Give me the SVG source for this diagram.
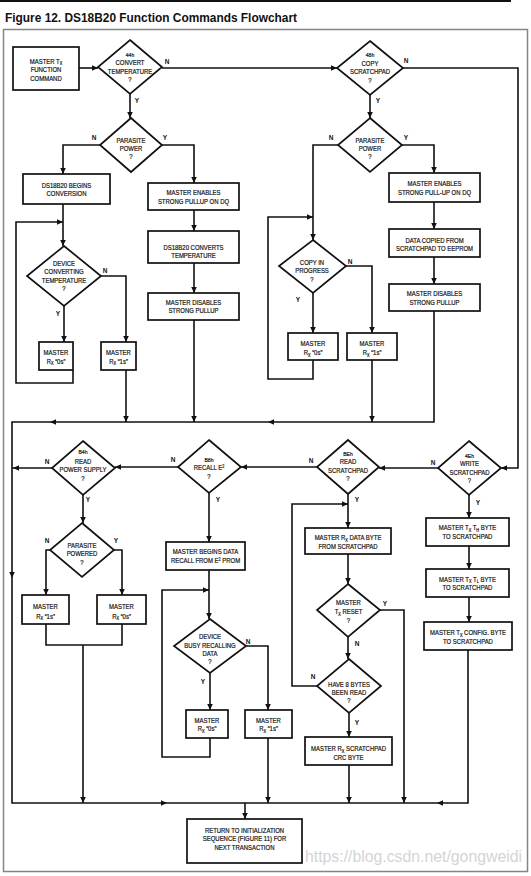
<svg xmlns="http://www.w3.org/2000/svg" xmlns:xlink="http://www.w3.org/1999/xlink" width="531" height="876" viewBox="0 0 531 876">
<style>
.t{font-family:"Liberation Sans",Arial,sans-serif;font-size:7px;fill:#111;stroke:#111;stroke-width:0.2;text-anchor:middle}
.s{font-size:6px}
.yn{font-family:"Liberation Sans",Arial,sans-serif;font-size:6.5px;font-weight:bold;fill:#111;text-anchor:middle}
.b{fill:#fff;stroke:#111;stroke-width:1.7}
.c path{fill:none;stroke:#111;stroke-width:1.6}
</style>
<defs>
<path id="ah" d="M0,0 L-6,-2.8 L-6,2.8 Z" fill="#111"/>
</defs>
<rect width="531" height="876" fill="#fff"/>
<rect x="0" y="0" width="511" height="2" fill="#111"/>
<text x="5" y="22" font-family="'Liberation Sans',Arial,sans-serif" font-weight="bold" font-size="13" fill="#111" textLength="292" lengthAdjust="spacingAndGlyphs">Figure 12. DS18B20 Function Commands Flowchart</text>
<rect x="3.5" y="29.5" width="524" height="842" fill="none" stroke="#858585" stroke-width="1.5"/>

<g class="c" id="connectors">
<path d="M79,68H98"/><use xlink:href="#ah" transform="translate(98 68)"/>
<path d="M162,68H337"/><use xlink:href="#ah" transform="translate(337 68)"/>
<path d="M130,94V118"/><use xlink:href="#ah" transform="translate(130 118) rotate(90)"/>
<path d="M100,145H63V174"/><use xlink:href="#ah" transform="translate(63 174) rotate(90)"/>
<path d="M162,145H194V183"/><use xlink:href="#ah" transform="translate(194 183) rotate(90)"/>
<path d="M63,204V246"/><use xlink:href="#ah" transform="translate(63 246) rotate(90)"/>
<path d="M73,370V383H16V222H63"/><use xlink:href="#ah" transform="translate(63 222)"/>
<path d="M101,276H126V342"/><use xlink:href="#ah" transform="translate(126 342) rotate(90)"/>
<path d="M64,306V342"/><use xlink:href="#ah" transform="translate(64 342) rotate(90)"/>
<path d="M126,370V422"/><use xlink:href="#ah" transform="translate(126 422) rotate(90)"/>
<path d="M194,210V231"/><use xlink:href="#ah" transform="translate(194 231) rotate(90)"/>
<path d="M194,263V293"/><use xlink:href="#ah" transform="translate(194 293) rotate(90)"/>
<path d="M194,320V422"/><use xlink:href="#ah" transform="translate(194 422) rotate(90)"/>
<path d="M370,95V118"/><use xlink:href="#ah" transform="translate(370 118) rotate(90)"/>
<path d="M403,68H518V468H501"/><use xlink:href="#ah" transform="translate(501 468) rotate(180)"/>
<path d="M338,145H313V240"/><use xlink:href="#ah" transform="translate(313 240) rotate(90)"/>
<path d="M402,145H434V173"/><use xlink:href="#ah" transform="translate(434 173) rotate(90)"/>
<path d="M434,202V229"/><use xlink:href="#ah" transform="translate(434 229) rotate(90)"/>
<path d="M434,257V284"/><use xlink:href="#ah" transform="translate(434 284) rotate(90)"/>
<path d="M434,311V422H12V803H468V650"/>
<use xlink:href="#ah" transform="translate(268 422) rotate(180)"/>
<use xlink:href="#ah" transform="translate(50 422) rotate(180)"/>
<use xlink:href="#ah" transform="translate(12 578) rotate(90)"/>
<use xlink:href="#ah" transform="translate(167 803)"/>
<use xlink:href="#ah" transform="translate(437 803) rotate(180)"/>
<path d="M346,266H372V333"/><use xlink:href="#ah" transform="translate(372 333) rotate(90)"/>
<path d="M313,293V333"/><use xlink:href="#ah" transform="translate(313 333) rotate(90)"/>
<path d="M313,360V379H268V217H313"/><use xlink:href="#ah" transform="translate(313 217)"/>
<path d="M372,360V422"/><use xlink:href="#ah" transform="translate(372 422) rotate(90)"/>
<path d="M438,468H379"/><use xlink:href="#ah" transform="translate(379 468) rotate(180)"/>
<path d="M317,467H241"/><use xlink:href="#ah" transform="translate(241 467) rotate(180)"/>
<path d="M178,467H115"/><use xlink:href="#ah" transform="translate(115 467) rotate(180)"/>
<path d="M52,468H12"/><use xlink:href="#ah" transform="translate(13 468) rotate(180)"/>
<path d="M83,495V523"/><use xlink:href="#ah" transform="translate(83 523) rotate(90)"/>
<path d="M50,550H46V595"/><use xlink:href="#ah" transform="translate(46 595) rotate(90)"/>
<path d="M114,550H122V595"/><use xlink:href="#ah" transform="translate(122 595) rotate(90)"/>
<path d="M46,624V645H122V624M83,645V803"/><use xlink:href="#ah" transform="translate(83 803) rotate(90)"/>
<path d="M209,493V542"/><use xlink:href="#ah" transform="translate(209 542) rotate(90)"/>
<path d="M209,570V619"/><use xlink:href="#ah" transform="translate(209 619) rotate(90)"/>
<path d="M210,738V757H162V590H209"/><use xlink:href="#ah" transform="translate(209 590)"/>
<path d="M246,646H268V710"/><use xlink:href="#ah" transform="translate(268 710) rotate(90)"/>
<path d="M210,673V710"/><use xlink:href="#ah" transform="translate(210 710) rotate(90)"/>
<path d="M268,738V803"/><use xlink:href="#ah" transform="translate(268 803) rotate(90)"/>
<path d="M348,494V528"/><use xlink:href="#ah" transform="translate(348 528) rotate(90)"/>
<path d="M348,554V584"/><use xlink:href="#ah" transform="translate(348 584) rotate(90)"/>
<path d="M380,610H404V803"/><use xlink:href="#ah" transform="translate(404 803) rotate(90)"/>
<path d="M348,637V659"/><use xlink:href="#ah" transform="translate(348 659) rotate(90)"/>
<path d="M317,686H292V504H348"/><use xlink:href="#ah" transform="translate(348 504)"/>
<path d="M349,713V737"/><use xlink:href="#ah" transform="translate(349 737) rotate(90)"/>
<path d="M349,765V803"/><use xlink:href="#ah" transform="translate(349 803) rotate(90)"/>
<path d="M469,495V518"/><use xlink:href="#ah" transform="translate(469 518) rotate(90)"/>
<path d="M469,546V569"/><use xlink:href="#ah" transform="translate(469 569) rotate(90)"/>
<path d="M469,597V622"/><use xlink:href="#ah" transform="translate(469 622) rotate(90)"/>
<path d="M245,803V819"/><use xlink:href="#ah" transform="translate(245 819) rotate(90)"/>
</g>

<g id="labels">
<text class="yn" x="167" y="63.5">N</text><text class="yn" x="137" y="102.5">Y</text>
<text class="yn" x="94" y="139.5">N</text><text class="yn" x="165" y="139.5">Y</text>
<text class="yn" x="105" y="272.5">N</text><text class="yn" x="58" y="315.5">Y</text>
<text class="yn" x="406" y="62.5">N</text><text class="yn" x="378" y="102.5">Y</text>
<text class="yn" x="331" y="139.5">N</text><text class="yn" x="406" y="139.5">Y</text>
<text class="yn" x="350" y="263.5">N</text><text class="yn" x="298" y="301.5">Y</text>
<text class="yn" x="47" y="463.5">N</text><text class="yn" x="88" y="501.5">Y</text>
<text class="yn" x="47" y="542.5">N</text><text class="yn" x="116" y="542.5">Y</text>
<text class="yn" x="173" y="461.5">N</text><text class="yn" x="218" y="501.5">Y</text>
<text class="yn" x="248" y="643.5">N</text><text class="yn" x="203" y="683.5">Y</text>
<text class="yn" x="311" y="462.5">N</text><text class="yn" x="357" y="501.5">Y</text>
<text class="yn" x="385" y="605.5">Y</text><text class="yn" x="357" y="645.5">N</text>
<text class="yn" x="313" y="678.5">N</text><text class="yn" x="357" y="724.5">Y</text>
<text class="yn" x="433" y="464.5">N</text><text class="yn" x="478" y="504.5">Y</text>
</g>

<g id="n_start"><rect class="b" x="13" y="47" width="66" height="43"/>
<text class="t" transform="translate(46 63.5) scale(.85 1)">MASTER T<tspan dy="1.5" font-size="4.5">X</tspan></text>
<text class="t" transform="translate(46 72) scale(.85 1)">FUNCTION</text>
<text class="t" transform="translate(46 80.5) scale(.85 1)">COMMAND</text></g>

<g id="d_44h"><path class="b" d="M130,40L162,67L130,94L98,67Z"/>
<text class="t s" transform="translate(130 56.5) scale(.85 1)">44h</text>
<text class="t" transform="translate(130 65) scale(.85 1)">CONVERT</text>
<text class="t" transform="translate(130 73.5) scale(.85 1)">TEMPERATURE</text>
<text class="t" transform="translate(130 82) scale(.85 1)">?</text></g>

<g id="d_par1"><path class="b" d="M131,118L162,145L131,172L100,145Z"/>
<text class="t" transform="translate(131 142.5) scale(.85 1)">PARASITE</text>
<text class="t" transform="translate(131 150.5) scale(.85 1)">POWER</text>
<text class="t" transform="translate(131 158.5) scale(.85 1)">?</text></g>

<g id="b_begin"><rect class="b" x="23" y="174" width="87" height="30"/>
<text class="t" transform="translate(66.5 187.5) scale(.85 1)">DS18B20 BEGINS</text>
<text class="t" transform="translate(66.5 196) scale(.85 1)">CONVERSION</text></g>

<g id="b_en1"><rect class="b" x="148" y="183" width="91" height="27"/>
<text class="t" transform="translate(193.5 195) scale(.85 1)">MASTER ENABLES</text>
<text class="t" transform="translate(193.5 203.5) scale(.85 1)">STRONG PULLUP ON DQ</text></g>

<g id="b_conv"><rect class="b" x="148" y="231" width="91" height="32"/>
<text class="t" transform="translate(193.5 249.5) scale(.85 1)">DS18B20 CONVERTS</text>
<text class="t" transform="translate(193.5 258) scale(.85 1)">TEMPERATURE</text></g>

<g id="b_dis1"><rect class="b" x="148" y="293" width="91" height="27"/>
<text class="t" transform="translate(193.5 304.5) scale(.85 1)">MASTER DISABLES</text>
<text class="t" transform="translate(193.5 313) scale(.85 1)">STRONG PULLUP</text></g>

<g id="d_devconv"><path class="b" d="M64,246L101,276L64,306L27,276Z"/>
<text class="t" transform="translate(64 265.5) scale(.85 1)">DEVICE</text>
<text class="t" transform="translate(64 274) scale(.85 1)">CONVERTING</text>
<text class="t" transform="translate(64 282.5) scale(.85 1)">TEMPERATURE</text>
<text class="t" transform="translate(64 291) scale(.85 1)">?</text></g>

<g id="b_0s_1"><rect class="b" x="39" y="342" width="34" height="28"/>
<text class="t" transform="translate(56 354.5) scale(.85 1)">MASTER</text>
<text class="t" transform="translate(56 363.5) scale(.85 1)">R<tspan dy="1.5" font-size="4.5">X</tspan><tspan dy="-1.5"> “0s”</tspan></text></g>

<g id="b_1s_1"><rect class="b" x="101" y="342" width="35" height="28"/>
<text class="t" transform="translate(118.5 354.5) scale(.85 1)">MASTER</text>
<text class="t" transform="translate(118.5 363.5) scale(.85 1)">R<tspan dy="1.5" font-size="4.5">X</tspan><tspan dy="-1.5"> “1s”</tspan></text></g>

<g id="d_48h"><path class="b" d="M370,41L403,68L370,95L337,68Z"/>
<text class="t s" transform="translate(370 57) scale(.85 1)">48h</text>
<text class="t" transform="translate(370 65.5) scale(.85 1)">COPY</text>
<text class="t" transform="translate(370 74) scale(.85 1)">SCRATCHPAD</text>
<text class="t" transform="translate(370 82.5) scale(.85 1)">?</text></g>

<g id="d_par2"><path class="b" d="M370,118L402,145L370,172L338,145Z"/>
<text class="t" transform="translate(370 142.5) scale(.85 1)">PARASITE</text>
<text class="t" transform="translate(370 150.5) scale(.85 1)">POWER</text>
<text class="t" transform="translate(370 158.5) scale(.85 1)">?</text></g>

<g id="b_en2"><rect class="b" x="389" y="173" width="91" height="29"/>
<text class="t" transform="translate(434.5 186) scale(.85 1)">MASTER ENABLES</text>
<text class="t" transform="translate(434.5 194.5) scale(.85 1)">STRONG PULL-UP ON DQ</text></g>

<g id="b_copied"><rect class="b" x="389" y="229" width="91" height="28"/>
<text class="t" transform="translate(434.5 242.5) scale(.85 1)">DATA COPIED FROM</text>
<text class="t" transform="translate(434.5 251) scale(.85 1)">SCRATCHPAD TO EEPROM</text></g>

<g id="b_dis2"><rect class="b" x="389" y="284" width="91" height="27"/>
<text class="t" transform="translate(434.5 296) scale(.85 1)">MASTER DISABLES</text>
<text class="t" transform="translate(434.5 305) scale(.85 1)">STRONG PULLUP</text></g>

<g id="d_copyprog"><path class="b" d="M313,240L346,266L313,293L279,266Z"/>
<text class="t" transform="translate(312 264.5) scale(.85 1)">COPY IN</text>
<text class="t" transform="translate(312 273) scale(.85 1)">PROGRESS</text>
<text class="t" transform="translate(312 281.5) scale(.85 1)">?</text></g>

<g id="b_0s_2"><rect class="b" x="288" y="333" width="50" height="27"/>
<text class="t" transform="translate(313 346) scale(.85 1)">MASTER</text>
<text class="t" transform="translate(313 355) scale(.85 1)">R<tspan dy="1.5" font-size="4.5">X</tspan><tspan dy="-1.5"> “0s”</tspan></text></g>

<g id="b_1s_2"><rect class="b" x="347" y="333" width="50" height="27"/>
<text class="t" transform="translate(372 346) scale(.85 1)">MASTER</text>
<text class="t" transform="translate(372 355) scale(.85 1)">R<tspan dy="1.5" font-size="4.5">X</tspan><tspan dy="-1.5"> “1s”</tspan></text></g>

<g id="d_b4h"><path class="b" d="M83,441L115,468L83,495L52,468Z"/>
<text class="t s" transform="translate(83 454) scale(.85 1)">B4h</text>
<text class="t" transform="translate(83 463.5) scale(.85 1)">READ</text>
<text class="t" transform="translate(83 472) scale(.85 1)">POWER SUPPLY</text>
<text class="t" transform="translate(83 480.5) scale(.85 1)">?</text></g>

<g id="d_pp"><path class="b" d="M82,523L114,550L82,577L50,550Z"/>
<text class="t" transform="translate(82 547.5) scale(.85 1)">PARASITE</text>
<text class="t" transform="translate(82 556) scale(.85 1)">POWERED</text>
<text class="t" transform="translate(82 565) scale(.85 1)">?</text></g>

<g id="b_1s_3"><rect class="b" x="22" y="595" width="47" height="29"/>
<text class="t" transform="translate(45.5 609) scale(.85 1)">MASTER</text>
<text class="t" transform="translate(45.5 618.5) scale(.85 1)">R<tspan dy="1.5" font-size="4.5">X</tspan><tspan dy="-1.5"> “1s”</tspan></text></g>

<g id="b_0s_3"><rect class="b" x="97" y="595" width="49" height="29"/>
<text class="t" transform="translate(121.5 609) scale(.85 1)">MASTER</text>
<text class="t" transform="translate(121.5 618.5) scale(.85 1)">R<tspan dy="1.5" font-size="4.5">X</tspan><tspan dy="-1.5"> “0s”</tspan></text></g>

<g id="d_b8h"><path class="b" d="M209,440L241,467L209,493L178,467Z"/>
<text class="t s" transform="translate(209 462) scale(.85 1)">B8h</text>
<text class="t" transform="translate(209 470) scale(.85 1)">RECALL E<tspan dy="-2.5" font-size="4.5">2</tspan></text>
<text class="t" transform="translate(209 478.5) scale(.85 1)">?</text></g>

<g id="b_recall"><rect class="b" x="166" y="542" width="79" height="28"/>
<text class="t" transform="translate(205.5 554) scale(.85 1)">MASTER BEGINS DATA</text>
<text class="t" transform="translate(205.5 563) scale(.85 1)">RECALL FROM E<tspan dy="-2.5" font-size="4.5">2</tspan><tspan dy="2.5"> PROM</tspan></text></g>

<g id="d_busy"><path class="b" d="M210,619L246,646L210,673L174,646Z"/>
<text class="t" transform="translate(210 639) scale(.85 1)">DEVICE</text>
<text class="t" transform="translate(210 647.5) scale(.85 1)">BUSY RECALLING</text>
<text class="t" transform="translate(210 656) scale(.85 1)">DATA</text>
<text class="t" transform="translate(210 663.5) scale(.85 1)">?</text></g>

<g id="b_0s_4"><rect class="b" x="186" y="710" width="42" height="28"/>
<text class="t" transform="translate(207 722.5) scale(.85 1)">MASTER</text>
<text class="t" transform="translate(207 731) scale(.85 1)">R<tspan dy="1.5" font-size="4.5">X</tspan><tspan dy="-1.5"> “0s”</tspan></text></g>

<g id="b_1s_4"><rect class="b" x="245" y="710" width="47" height="28"/>
<text class="t" transform="translate(268.5 722.5) scale(.85 1)">MASTER</text>
<text class="t" transform="translate(268.5 731) scale(.85 1)">R<tspan dy="1.5" font-size="4.5">X</tspan><tspan dy="-1.5"> “1s”</tspan></text></g>

<g id="d_beh"><path class="b" d="M348,440L379,467L348,494L317,467Z"/>
<text class="t s" transform="translate(348 455.5) scale(.85 1)">BEh</text>
<text class="t" transform="translate(348 464) scale(.85 1)">READ</text>
<text class="t" transform="translate(348 472.5) scale(.85 1)">SCRATCHPAD</text>
<text class="t" transform="translate(348 481) scale(.85 1)">?</text></g>

<g id="b_rxdata"><rect class="b" x="305" y="528" width="86" height="26"/>
<text class="t" transform="translate(348 540) scale(.85 1)">MASTER R<tspan dy="1.5" font-size="4.5">X</tspan><tspan dy="-1.5"> DATA BYTE</tspan></text>
<text class="t" transform="translate(348 549) scale(.85 1)">FROM SCRATCHPAD</text></g>

<g id="d_reset"><path class="b" d="M348,584L380,610L348,637L317,610Z"/>
<text class="t" transform="translate(348.5 605) scale(.85 1)">MASTER</text>
<text class="t" transform="translate(348.5 614) scale(.85 1)">T<tspan dy="1.5" font-size="4.5">X</tspan><tspan dy="-1.5"> RESET</tspan></text>
<text class="t" transform="translate(348.5 623) scale(.85 1)">?</text></g>

<g id="d_have8"><path class="b" d="M349,659L381,686L349,713L317,686Z"/>
<text class="t" transform="translate(349 686.5) scale(.85 1)">HAVE 8 BYTES</text>
<text class="t" transform="translate(349 694.5) scale(.85 1)">BEEN READ</text>
<text class="t" transform="translate(349 703) scale(.85 1)">?</text></g>

<g id="b_crc"><rect class="b" x="305" y="737" width="87" height="28"/>
<text class="t" transform="translate(348.5 751) scale(.85 1)">MASTER R<tspan dy="1.5" font-size="4.5">X</tspan><tspan dy="-1.5"> SCRATCHPAD</tspan></text>
<text class="t" transform="translate(348.5 759.5) scale(.85 1)">CRC BYTE</text></g>

<g id="d_4eh"><path class="b" d="M469,441L501,468L469,495L438,468Z"/>
<text class="t s" transform="translate(469.5 457.5) scale(.85 1)">4Eh</text>
<text class="t" transform="translate(469.5 466) scale(.85 1)">WRITE</text>
<text class="t" transform="translate(469.5 474.5) scale(.85 1)">SCRATCHPAD</text>
<text class="t" transform="translate(469.5 482.5) scale(.85 1)">?</text></g>

<g id="b_th"><rect class="b" x="426" y="518" width="83" height="28"/>
<text class="t" transform="translate(467.5 530) scale(.85 1)">MASTER T<tspan dy="1.5" font-size="4.5">X</tspan><tspan dy="-1.5"> T</tspan><tspan dy="1.5" font-size="4.5">H</tspan><tspan dy="-1.5"> BYTE</tspan></text>
<text class="t" transform="translate(467.5 538.5) scale(.85 1)">TO SCRATCHPAD</text></g>

<g id="b_tl"><rect class="b" x="426" y="569" width="83" height="28"/>
<text class="t" transform="translate(467.5 581.5) scale(.85 1)">MASTER T<tspan dy="1.5" font-size="4.5">X</tspan><tspan dy="-1.5"> T</tspan><tspan dy="1.5" font-size="4.5">L</tspan><tspan dy="-1.5"> BYTE</tspan></text>
<text class="t" transform="translate(467.5 589.5) scale(.85 1)">TO SCRATCHPAD</text></g>

<g id="b_cfg"><rect class="b" x="424" y="622" width="88" height="28"/>
<text class="t" transform="translate(468 635) scale(.85 1)">MASTER T<tspan dy="1.5" font-size="4.5">X</tspan><tspan dy="-1.5"> CONFIG.  BYTE</tspan></text>
<text class="t" transform="translate(468 644) scale(.85 1)">TO SCRATCHPAD</text></g>

<g id="b_return"><rect class="b" x="187" y="819" width="115" height="44"/>
<text class="t" transform="translate(244.5 832.5) scale(.85 1)">RETURN TO INITIALIZATION</text>
<text class="t" transform="translate(244.5 841) scale(.85 1)">SEQUENCE (FIGURE 11) FOR</text>
<text class="t" transform="translate(244.5 850) scale(.85 1)">NEXT TRANSACTION</text></g>

<text x="305" y="862" font-family="'Liberation Sans',Arial,sans-serif" font-size="16" fill="#d4d4d4" textLength="217" lengthAdjust="spacingAndGlyphs">https://blog.csdn.net/gongweidi</text>
</svg>
